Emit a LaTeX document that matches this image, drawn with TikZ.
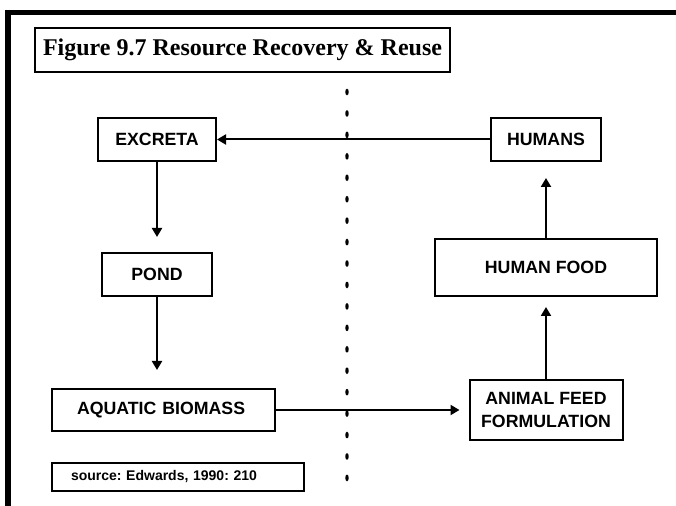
\documentclass[tikz,border=0pt]{standalone}
\usepackage{fontspec}
\setmainfont{Liberation Sans}
\newfontfamily\titlefont{Liberation Serif}
\usetikzlibrary{arrows.meta}
\frenchspacing

\tikzset{
  box/.style={shape=rectangle, draw=black, line width=1.5pt, inner sep=0pt, align=center,
    font=\bfseries\fontsize{13.3}{17}\selectfont},
  arr/.style={-{Triangle[length=6.75pt,width=7.5pt]}, line width=1.5pt},
}

\begin{document}
\begin{tikzpicture}[x=0.75pt, y=-0.75pt]
\useasboundingbox (0,0) rectangle (676,506);
% frame
\fill (5,10) rectangle (676,15);
\fill (5,10) rectangle (11,506);
% dotted divider
\foreach \k in {0,...,18}
  \fill (347,92+21.44*\k) ellipse (1.3pt and 2.5pt);

\node[box, minimum width=311pt, minimum height=33pt, font=\titlefont\bfseries\fontsize{18}{21}\selectfont] (T) at (242.5,50) {Figure 9.7 Resource Recovery \& Reuse};

\node[box, minimum width=88.5pt, minimum height=32.25pt] (A) at (157,139.5) {EXCRETA};
\node[box, minimum width=82.5pt, minimum height=32.25pt] (B) at (546,139.5) {HUMANS};
\node[box, minimum width=82.5pt, minimum height=32.25pt] (C) at (157,274.5) {POND};
\node[box, minimum width=166.5pt, minimum height=42.75pt] (F) at (546,267.5) {HUMAN FOOD};
\node[box, minimum height=31.5pt, inner xsep=18.75pt, text width=129.75pt, align=left] (D) at (163.5,410) {AQUATIC BIOMASS};
\node[box, minimum width=114.75pt, minimum height=45pt] (E) at (546,410) {ANIMAL FEED\\FORMULATION};
\node[box, minimum height=21pt, inner xsep=14.25pt, text width=160.5pt, align=left, font=\bfseries\fontsize{10.5}{12}\selectfont] (S) at (178,477) {source: Edwards, 1990: 210};

\path[arr] (B) edge (A);
\path[arr] (A) edge[shorten >=11.25pt] (C);
\draw[arr, shorten >=13.5pt] (C.south) -- (C.south |- D.north);
\path[arr] (D) edge[shorten >=6.75pt] (E);
\path[arr] (E) edge[shorten >=7.5pt] (F);
\path[arr] (F) edge[shorten >=12pt] (B);
\end{tikzpicture}
\end{document}
